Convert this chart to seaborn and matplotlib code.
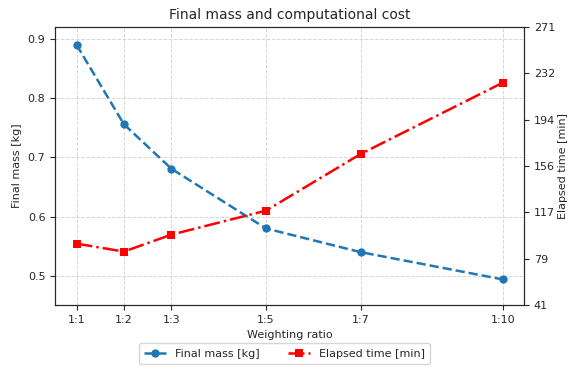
import numpy as np
import pandas as pd
import matplotlib
matplotlib.use("Agg")
import matplotlib.pyplot as plt
import seaborn as sns

ratios = [1, 2, 3, 5, 7, 10]
ratio_labels = ["1:1", "1:2", "1:3", "1:5", "1:7", "1:10"]
final_mass = [0.890, 0.756, 0.681, 0.580, 0.540, 0.494]
elapsed_min = [91.7, 85.1, 99.1, 119.0, 165.9, 224.9]

sns.set_style("ticks")
plt.rcParams["font.family"] = ["DejaVu Sans"]

df = pd.DataFrame({"ratio": ratios, "mass": final_mass, "time": elapsed_min})

fig, ax = plt.subplots(figsize=(5.69, 3.70), dpi=100)
ax2 = ax.twinx()

sns.lineplot(data=df, x="ratio", y="mass", ax=ax, color="tab:blue", marker="o",
             markersize=6, markeredgewidth=0, linestyle="--", linewidth=1.8,
             label="Final mass [kg]", legend=False)
sns.lineplot(data=df, x="ratio", y="time", ax=ax2, color="red", marker="s",
             markersize=6, markeredgewidth=0, linestyle="-.", linewidth=1.8,
             label="Elapsed time [min]", legend=False)

ax.set_xticks(ratios)
ax.set_xticklabels(ratio_labels)
ax.set_ylim(0.451, 0.920)
ax.set_yticks([0.5, 0.6, 0.7, 0.8, 0.9])
# right axis ticks spread evenly over the range, labels truncated to int
rticks = np.linspace(41, 271, 7)
ax2.set_ylim(41, 271)
ax2.set_yticks(rticks)
ax2.set_yticklabels([str(int(v)) for v in rticks])

ax.grid(True, linestyle="--", color="#cccccc", alpha=0.8, linewidth=0.7)
ax.set_xlabel("Weighting ratio", fontsize=8)
ax.set_ylabel("Final mass [kg]", fontsize=8)
ax2.set_ylabel("Elapsed time [min]", fontsize=8, labelpad=2)
ax.set_title("Final mass and computational cost", fontsize=10)
ax.tick_params(labelsize=8)
ax2.tick_params(labelsize=8)

for a in (ax, ax2):
    for s in a.spines.values():
        s.set_visible(True)

h1, l1 = ax.get_legend_handles_labels()
h2, l2 = ax2.get_legend_handles_labels()
fig.legend(h1 + h2, l1 + l2, loc="lower center", ncol=2, fontsize=8,
           bbox_to_anchor=(0.5, 0.0), frameon=True, borderpad=0.5,
           columnspacing=2.5)

fig.subplots_adjust(left=0.097, right=0.921, top=0.927, bottom=0.176)
fig.savefig("out.png", dpi=100)
